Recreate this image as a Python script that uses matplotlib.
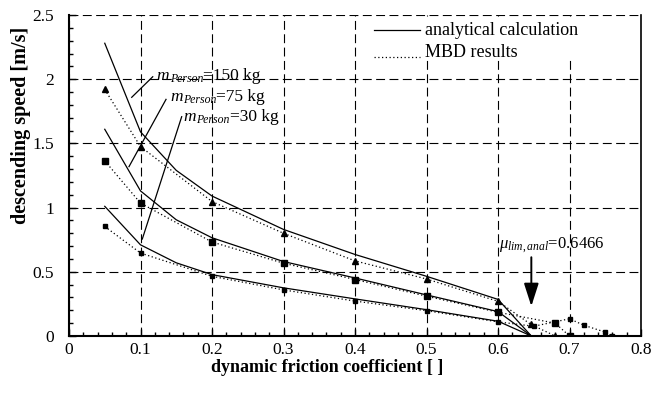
import matplotlib
matplotlib.use("Agg")
import matplotlib.pyplot as plt
from matplotlib.patches import Rectangle
from matplotlib.ticker import MultipleLocator

plt.rcParams["font.family"] = ["Liberation Serif", "DejaVu Serif"]
plt.rcParams["mathtext.fontset"] = "custom"
plt.rcParams["mathtext.rm"] = "Liberation Serif"
plt.rcParams["mathtext.it"] = "Liberation Serif:italic"
plt.rcParams["mathtext.bf"] = "Liberation Serif:bold"

# analytical descending speed vs. dynamic friction coefficient
mu_anal = [0.05, 0.1, 0.15, 0.2, 0.3, 0.4, 0.5, 0.6, 0.6466]
v_anal_150 = [2.28, 1.59, 1.29, 1.09, 0.83, 0.635, 0.465, 0.285, 0.0]
v_anal_75 = [1.61, 1.13, 0.905, 0.765, 0.58, 0.452, 0.32, 0.19, 0.0]
v_anal_30 = [1.01, 0.71, 0.57, 0.478, 0.375, 0.289, 0.205, 0.115, 0.0]

# multibody simulation results
mu_mbd_150 = [0.05, 0.1, 0.2, 0.3, 0.4, 0.5, 0.6, 0.646, 0.68]
v_mbd_150 = [1.92, 1.475, 1.047, 0.80, 0.585, 0.444, 0.27, 0.09, 0.0]
mu_mbd_75 = [0.05, 0.1, 0.2, 0.3, 0.4, 0.5, 0.6, 0.68, 0.7]
v_mbd_75 = [1.364, 1.035, 0.732, 0.567, 0.44, 0.31, 0.185, 0.10, 0.0]
mu_mbd_30 = [0.05, 0.1, 0.2, 0.3, 0.4, 0.5, 0.6, 0.65, 0.7, 0.72, 0.75, 0.76]
v_mbd_30 = [0.853, 0.646, 0.465, 0.359, 0.272, 0.197, 0.11, 0.076, 0.134, 0.084, 0.03, 0.0]

masses = [150, 75, 30]
mu_lim = 0.6466

fig = plt.figure(figsize=(6.68, 3.99), dpi=100)
ax = fig.add_axes([0.1033, 0.1579, 0.8563, 0.8045])

for v in (v_anal_150, v_anal_75, v_anal_30):
    ax.plot(mu_anal, v, color="black", lw=0.9, zorder=4)

dotted = (0, (1, 2))
ax.plot(mu_mbd_150, v_mbd_150, color="black", lw=0.9, ls=dotted,
        marker="^", ms=4.5, zorder=4)
ax.plot(mu_mbd_75, v_mbd_75, color="black", lw=0.9, ls=dotted,
        marker="s", ms=5, zorder=4)
ax.plot(mu_mbd_30, v_mbd_30, color="black", lw=0.9, ls=dotted,
        marker="s", ms=3, zorder=4)

ax.set_xlim(0, 0.8)
ax.set_ylim(0, 2.5)
ax.xaxis.set_major_locator(MultipleLocator(0.1))
ax.xaxis.set_minor_locator(MultipleLocator(0.02))
ax.yaxis.set_major_locator(MultipleLocator(0.5))
ax.yaxis.set_minor_locator(MultipleLocator(0.1))
fmt = plt.FuncFormatter(lambda v, p: f"{v:g}")
ax.xaxis.set_major_formatter(fmt)
ax.yaxis.set_major_formatter(fmt)
ax.tick_params(which="both", direction="in", top=False, right=False,
               labelsize=12.5, width=1.0)
ax.tick_params(axis="x", pad=4)
ax.tick_params(axis="y", pad=11)
ax.tick_params(which="major", length=5)
ax.tick_params(which="minor", length=3)
ax.grid(True, which="major", color="black", lw=0.8, ls=(0, (8, 4)))
ax.set_axisbelow(True)
ax.spines["top"].set_visible(False)
for side, w in (("left", 1.5), ("bottom", 1.5), ("right", 1.2)):
    ax.spines[side].set_linewidth(w)
    ax.spines[side].set_zorder(6)

ax.set_xlabel("dynamic friction coefficient [ ]", fontsize=13,
              fontweight="bold")
ax.set_ylabel("descending speed [m/s]", fontsize=14.5, fontweight="bold")
ax.xaxis.set_label_coords(0.452, -0.072)
ax.yaxis.set_label_coords(-0.066, 0.655)

# legend box
ax.add_patch(Rectangle((0.53, 0.865), 0.47, 0.125, transform=ax.transAxes,
                       facecolor="white", edgecolor="none", zorder=3))
ax.plot([0.4265, 0.4915], [2.382, 2.382], color="black", lw=0.9, zorder=5)
ax.plot([0.4265, 0.4915], [2.174, 2.174], color="black", lw=0.9,
        ls=dotted, zorder=5)
ax.text(0.498, 2.343, "analytical calculation", fontsize=13, va="baseline",
        zorder=5)
ax.text(0.498, 2.174, "MBD results", fontsize=13, va="baseline", zorder=5)


def mass_label(x, y, mass):
    """Draw m_Person=<mass> kg with an italic subscript."""
    t1 = ax.text(x, y, "m", fontsize=12.5, style="italic", va="baseline",
                 zorder=5)
    t2 = ax.annotate("Person", xy=(1, 0), xycoords=t1, xytext=(0.3, -0.8),
                     textcoords="offset points", fontsize=8.5,
                     style="italic", va="bottom", ha="left", zorder=5)
    ax.annotate(f"={mass} kg", xy=(1, 0), xycoords=(t2, t1),
                xytext=(0, 0), textcoords="offset points", fontsize=12.5,
                va="bottom", ha="left", zorder=5)


label_pos = [(0.1227, 1.993), (0.1413, 1.830), (0.1599, 1.674)]
leaders = [((0.1171, 2.019), (0.0877, 1.859)),
           ((0.1357, 1.843), (0.0839, 1.319)),
           ((0.1576, 1.708), (0.1025, 0.755))]
for mass, (lx, ly), (p0, p1) in zip(masses, label_pos, leaders):
    mass_label(lx, ly, mass)
    ax.plot([p0[0], p1[0]], [p0[1], p1[1]], color="black", lw=0.9, zorder=5)

ax.text(0.602, 0.685, r"$\mu_{lim,anal}$=0.6466", fontsize=12,
        va="baseline", zorder=5)
ax.annotate("", xy=(mu_lim, 0.21), xytext=(mu_lim, 0.635),
            arrowprops=dict(arrowstyle="-|>,head_length=1.4,head_width=0.45",
                            color="black", lw=1.4), zorder=5)

fig.savefig("out.png", dpi=100)
